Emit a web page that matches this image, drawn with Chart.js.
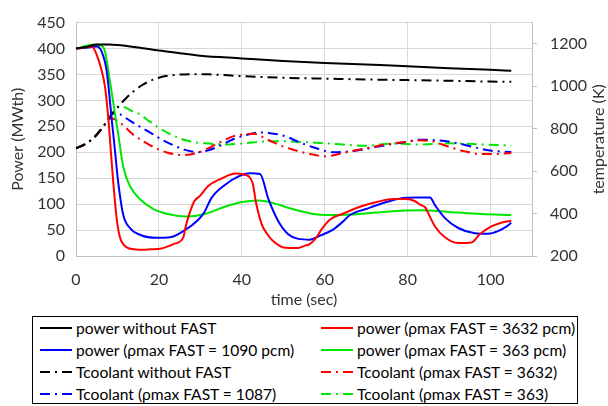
<!DOCTYPE html>
<html><head><meta charset="utf-8">
<script src="https://cdn.jsdelivr.net/npm/chart.js@4"></script>
<style>
html,body{margin:0;padding:0;background:#fff;}
#wrap{position:relative;width:608px;height:406px;font-family:Lato,sans-serif;}
#c{position:absolute;left:0;top:0;}
#legend{position:absolute;left:32px;top:316px;width:544px;height:86px;border:1px solid #000;background:#fff;}
.item{position:absolute;height:20px;display:flex;align-items:center;font-size:15.6px;color:#000;white-space:nowrap;}
.item svg{margin-right:4px;}
</style></head>
<body><div id="wrap"><canvas id="c" width="608" height="312" style="width:608px;height:312px"></canvas><div id="legend"></div></div>
<script>
// ---- tick labels ----
const xTicks = [0, 20, 40, 60, 80, 100];
const powerTicks = [0, 50, 100, 150, 200, 250, 300, 350, 400, 450];
const tempTicks = [200, 400, 600, 800, 1000, 1200];

// ---- series: power (MWth) ----
const tPowNo = [0, 3, 5, 8, 10, 15, 20, 25, 30, 40, 50, 60, 70, 80, 90, 100, 105];
const powNo  = [400, 404, 408, 408, 407, 402, 396, 391, 386, 381, 376, 372, 369, 366, 362, 359, 357];

const tPow3632 = [0, 2, 3.8, 5, 6.2, 7, 7.8, 8.4, 9, 9.8, 10.6, 12.2, 14, 16.2, 18, 20.3, 22, 23.5, 25.9, 26.3, 27.1, 28.5, 29.9, 31.9, 35, 38.5, 40.5, 42.6, 43.4, 44.8, 46, 47.4, 50.5, 53.6, 55.2, 56.4, 58, 59.2, 61.2, 64.5, 68.5, 72.5, 76.5, 79.7, 81.7, 83, 84.2, 85, 86.6, 89, 92.2, 95.4, 97.4, 100.2, 103, 105];
const pow3632  = [400, 402, 404, 388, 357, 326, 265, 203, 141, 73, 36, 17, 13, 12, 13, 14, 18, 23, 36, 51, 75, 105, 116, 135, 149, 159, 157, 141, 104, 61, 44, 30, 16, 15.5, 20, 23, 36, 51, 70, 82, 95, 104, 110, 110, 106, 99, 94, 82, 57, 36, 25, 26, 42, 57, 65, 68];

const tPow1090 = [0, 3, 5, 6.2, 7.4, 8.6, 9.4, 10.2, 11.4, 13, 15.4, 19.5, 22.7, 25.9, 29.5, 31, 32.7, 35.9, 39.1, 42, 44.4, 46.4, 48.8, 51.2, 53.6, 56.4, 58.8, 62, 64.5, 66.1, 70.1, 74.9, 78.9, 82, 85.4, 86.6, 89, 92.2, 96.2, 99.4, 101.8, 103.9, 105];
const pow1090  = [400, 402, 404, 394, 357, 265, 203, 141, 79, 54, 41, 35, 36, 48, 70, 85, 112, 137, 153, 159.5, 158, 110, 67, 42, 33, 31.5, 39, 51, 67, 79, 91, 104, 112, 113, 113, 98, 73, 54, 44, 43, 48, 57, 64];

const tPow363 = [0, 4.2, 6.2, 7, 7.8, 9, 10.2, 11.4, 13, 15.4, 18.6, 22.7, 26.5, 31.1, 35.9, 40, 44, 48, 52, 55, 57.2, 60.4, 66.1, 74.1, 83, 89.8, 97.8, 105];
const pow363  = [400, 408, 405, 394, 357, 295, 234, 172, 135, 110, 91, 80, 76, 81, 95, 104, 107, 101, 91, 85, 81, 79, 80, 85, 88, 85, 81, 79];

// ---- series: coolant temperature (K) ----
const tTcNo = [0, 2, 4, 6, 7, 8, 8.6, 9, 10, 11, 12, 14, 16, 18, 20, 22, 25, 28, 32, 40, 50, 60, 70, 80, 90, 100, 105];
const tcNo  = [708, 725, 752, 795, 822, 850, 868, 878, 900, 922, 942, 978, 1006, 1026, 1040, 1049, 1055, 1057, 1056, 1048, 1040, 1036, 1032, 1029, 1026, 1022, 1021];

const tTc3632 = [0, 2, 4, 6, 7, 7.8, 8.6, 9.8, 12, 13.8, 17.8, 21.9, 25.9, 29.9, 33.9, 37.9, 40, 43, 46, 50, 54, 57.2, 60.4, 64.5, 70.1, 74.9, 79.7, 83, 85.8, 89.8, 93.8, 97.8, 101.8, 105];
const tc3632  = [708, 725, 752, 795, 822, 846, 848, 840, 805, 772, 723, 688, 676, 690, 728, 764, 772, 776, 750, 716, 692, 678, 670, 686, 708, 726, 738, 745, 741, 716, 693, 681, 681, 686];

const tTc1087 = [0, 2, 4, 6, 7, 8, 8.6, 9.4, 10.4, 12.2, 16.2, 17.8, 20.3, 23.5, 26.3, 28.3, 29.5, 31.5, 34.3, 37.9, 41, 44.4, 46.4, 50.4, 54, 58, 62, 66, 70, 74.9, 79.7, 83, 86.6, 91.4, 95.4, 99.4, 105];
const tc1087  = [708, 725, 752, 795, 822, 850, 868, 873, 870, 848, 800, 783, 753, 722, 700, 691, 689, 696, 716, 750, 770, 782, 780, 765, 735, 708, 689, 693, 705, 723, 738, 748, 746, 734, 716, 698, 690];

const tTc363 = [0, 2, 4, 6, 7, 8, 9, 9.8, 10.6, 11.4, 13.8, 15.4, 17.8, 21.9, 26.7, 31.1, 36.7, 42.4, 48, 55, 60.4, 70, 76.5, 83, 89.8, 97.8, 105];
const tc363  = [708, 725, 752, 795, 822, 850, 876, 895, 904, 903, 880, 868, 833, 783, 744, 731, 726, 735, 741, 737, 731, 720, 730, 725, 731, 726, 720];

const RED = '#ff0000', BLUE = '#0000ff', GREEN = '#00e600', BLACK = '#000000';
const DASHDOT = [10, 5, 2, 5];
const zip = (xs, ys) => xs.map((x, i) => ({x, y: ys[i]}));

function ds(label, xs, ys, color, axis, dashed) {
  return {
    label, data: zip(xs, ys), borderColor: color, backgroundColor: color,
    borderWidth: 2, pointRadius: 0, fill: false, yAxisID: axis,
    borderDash: dashed ? DASHDOT : [], cubicInterpolationMode: 'monotone'
  };
}

const datasets = [
  ds('power without FAST', tPowNo, powNo, BLACK, 'y', false),
  ds('power (\u03C1max FAST = 3632 pcm)', tPow3632, pow3632, RED, 'y', false),
  ds('power (\u03C1max FAST = 1090 pcm)', tPow1090, pow1090, BLUE, 'y', false),
  ds('power (\u03C1max FAST = 363 pcm)', tPow363, pow363, GREEN, 'y', false),
  ds('Tcoolant without FAST', tTcNo, tcNo, BLACK, 'y2', true),
  ds('Tcoolant (\u03C1max FAST = 3632)', tTc3632, tc3632, RED, 'y2', true),
  ds('Tcoolant (\u03C1max FAST = 1087)', tTc1087, tc1087, BLUE, 'y2', true),
  ds('Tcoolant (\u03C1max FAST = 363)', tTc363, tc363, GREEN, 'y2', true),
];
datasets.forEach(d => d.order = d.yAxisID === 'y' ? 0 : 1);

const FONT = {family: 'Lato, sans-serif', size: 16};
const TXT = '#333333';
const plain = v => String(v);

const titles = {
  id: 'titles',
  afterDraw(chart) {
    const {ctx, chartArea: a} = chart;
    ctx.save();
    ctx.fillStyle = TXT;
    ctx.font = '16px Lato, sans-serif';
    ctx.textAlign = 'center';
    ctx.textBaseline = 'middle';
    ctx.fillText('time (sec)', (a.left + a.right) / 2, 300);
    const cy = (a.top + a.bottom) / 2;
    ctx.save(); ctx.translate(18, cy); ctx.rotate(-Math.PI / 2); ctx.fillText('Power (MWth)', 0, 0); ctx.restore();
    ctx.save(); ctx.translate(599, cy); ctx.rotate(-Math.PI / 2); ctx.fillText('temperature (K)', 0, 0); ctx.restore();
    ctx.restore();
  }
};

new Chart(document.getElementById('c'), {
  type: 'line',
  data: {datasets},
  options: {
    responsive: false, animation: false,
    layout: {padding: {top: 13, left: 0, right: 0, bottom: 0}},
    plugins: {legend: {display: false}, tooltip: {enabled: false}},
    scales: {
      x: {
        type: 'linear', min: 0, max: 110,
        afterBuildTicks(s) { s.ticks = xTicks.map(v => ({value: v})); },
        afterFit(s) { s.height = 56; },
        grid: {color: '#d9d9d9', drawTicks: false},
        border: {color: '#bfbfbf'},
        ticks: {font: FONT, color: TXT, padding: 14, maxRotation: 0, callback: plain}
      },
      y: {
        position: 'left', min: 0, max: 450,
        afterBuildTicks(s) { s.ticks = powerTicks.map(v => ({value: v})); },
        afterFit(s) { s.width = 76; },
        grid: {color: '#d9d9d9', drawTicks: false},
        border: {color: '#bfbfbf'},
        ticks: {font: FONT, color: TXT, padding: 11, callback: plain}
      },
      y2: {
        position: 'right', min: 200, max: 1300,
        afterBuildTicks(s) { s.ticks = tempTicks.map(v => ({value: v})); },
        afterFit(s) { s.width = 76; },
        grid: {drawOnChartArea: false, color: '#bfbfbf', tickLength: 5},
        border: {color: '#bfbfbf'},
        ticks: {font: FONT, color: TXT, padding: 13, callback: plain}
      }
    }
  },
  plugins: [titles]
});

// ---- HTML legend, two columns ----
const leg = document.getElementById('legend');
const colX = [7, 288];
const rowY = [1, 23, 45, 67];
datasets.forEach((d, i) => {
  const el = document.createElement('div');
  el.className = 'item';
  el.style.left = colX[i % 2] + 'px';
  el.style.top = rowY[Math.floor(i / 2)] + 'px';
  const dash = d.borderDash.length ? 'stroke-dasharray="' + d.borderDash.join(',') + '"' : '';
  el.innerHTML = '<svg width="32" height="4"><line x1="0" y1="2" x2="32" y2="2" stroke="' + d.borderColor + '" stroke-width="2" ' + dash + '/></svg>';
  const span = document.createElement('span');
  span.textContent = d.label;
  el.appendChild(span);
  leg.appendChild(el);
});
</script>
</body></html>
